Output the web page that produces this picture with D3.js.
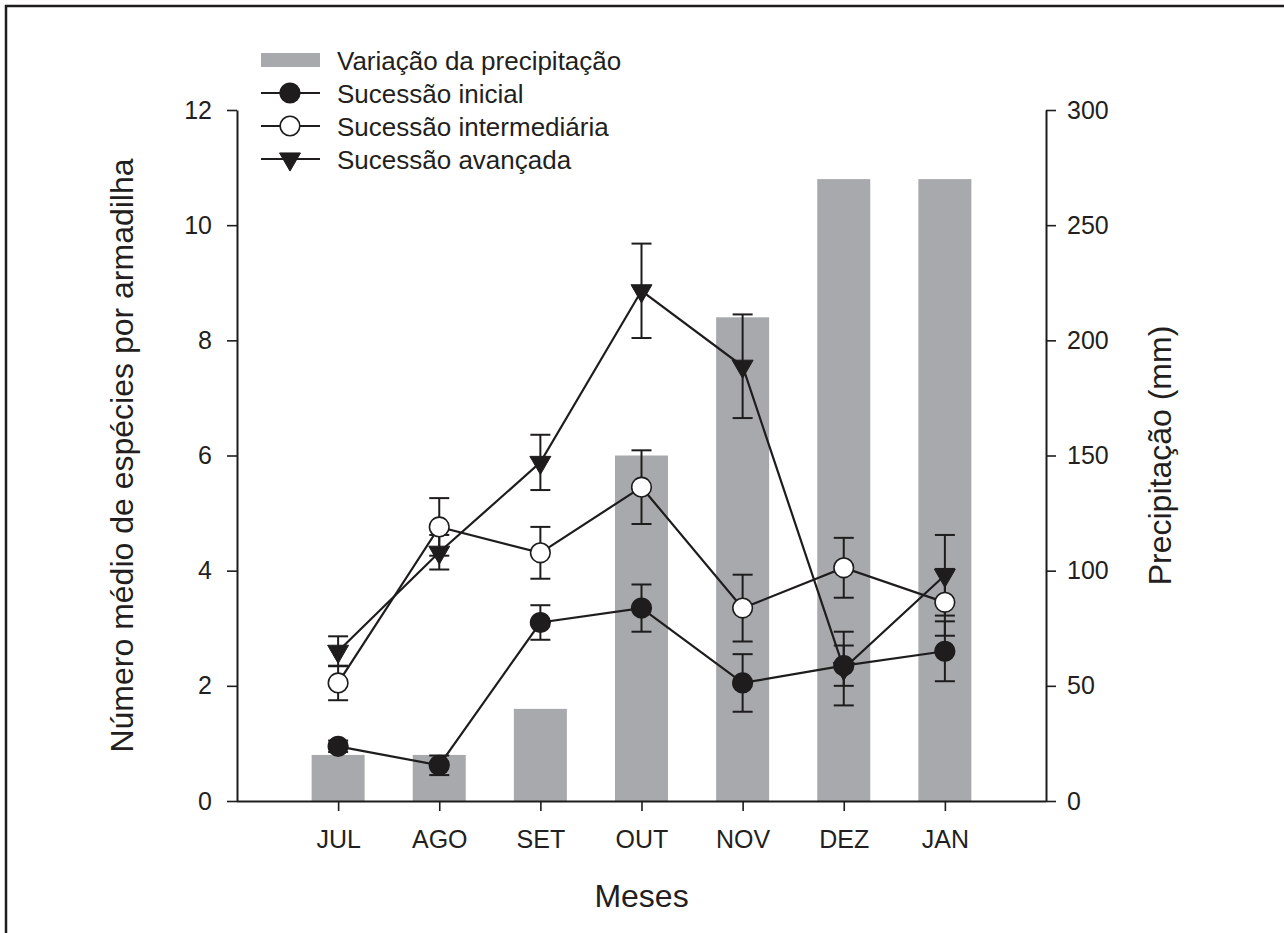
<!DOCTYPE html>
<html>
<head>
<meta charset="utf-8">
<script src="https://cdn.jsdelivr.net/npm/d3@7"></script>
<style>
  html, body { margin: 0; padding: 0; background: #fff; }
  svg { display: block; }
  text { font-family: "Liberation Sans", Arial, sans-serif; fill: #231f20; }
</style>
</head>
<body>
<svg id="chart" width="1284" height="933"></svg>
<script>
// Months on the x axis
const months = ["JUL", "AGO", "SET", "OUT", "NOV", "DEZ", "JAN"];

// Monthly rainfall (mm), right axis
const precipitacao = [20, 20, 40, 150, 210, 270, 270];

// Mean number of species per trap, with error (±)
const inicial      = [0.95, 0.62, 3.10, 3.35, 2.05, 2.35, 2.60];
const inicialErr   = [0.10, 0.17, 0.30, 0.41, 0.50, 0.35, 0.52];
const intermed     = [2.05, 4.76, 4.31, 5.45, 3.35, 4.05, 3.45];
const intermedErr  = [0.30, 0.50, 0.45, 0.64, 0.58, 0.52, 0.58];
const avancada     = [2.60, 4.32, 5.88, 8.86, 7.55, 2.30, 3.92];
const avancadaErr  = [0.26, 0.30, 0.48, 0.82, 0.90, 0.64, 0.70];

// Axis ticks
const leftTicks  = [0, 2, 4, 6, 8, 10, 12];
const rightTicks = [0, 50, 100, 150, 200, 250, 300];

const svg = d3.select("#chart");
const ink = "#1e1c1d";
const barFill = "#a7a9ac";
const tickFont = 25;
const titleFont = 32;

// Frame around the figure
svg.append("line").attr("x1", 5).attr("x2", 1284).attr("y1", 6).attr("y2", 6)
  .attr("stroke", ink).attr("stroke-width", 2.5);
svg.append("line").attr("x1", 6).attr("x2", 6).attr("y1", 5).attr("y2", 933)
  .attr("stroke", ink).attr("stroke-width", 2.5);

const plotL = 237, plotR = 1046, plotT = 110, plotB = 801;

const x = d3.scalePoint().domain(months).range([plotL, plotR]).padding(1);
const yL = d3.scaleLinear().domain([0, 12]).range([plotB, plotT]);
const yR = d3.scaleLinear().domain([0, 300]).range([plotB, plotT]);

// Rainfall bars
const barW = 53;
svg.append("g").selectAll("rect")
  .data(months.map((m, i) => ({ m, v: precipitacao[i] })))
  .join("rect")
  .attr("x", d => x(d.m) - barW / 2)
  .attr("width", barW)
  .attr("y", d => yR(d.v))
  .attr("height", d => yR(0) - yR(d.v))
  .attr("fill", barFill);

// Axes
function styleAxis(g) {
  g.selectAll("path").attr("stroke", ink).attr("stroke-width", 2);
  g.selectAll("line").attr("stroke", ink).attr("stroke-width", 1.6);
  g.selectAll("text").attr("font-size", tickFont).style("fill", "#231f20")
    .attr("font-family", "Liberation Sans, Arial, sans-serif");
}

svg.append("g").attr("transform", `translate(${plotL},0)`)
  .call(d3.axisLeft(yL).tickValues(leftTicks).tickSize(10).tickPadding(15).tickSizeOuter(0))
  .call(styleAxis);

svg.append("g").attr("transform", `translate(${plotR},0)`)
  .call(d3.axisRight(yR).tickValues(rightTicks).tickSize(10).tickPadding(11).tickSizeOuter(0))
  .call(styleAxis);

const xAxis = svg.append("g").attr("transform", `translate(0,${plotB})`)
  .call(d3.axisBottom(x).tickSize(10).tickPadding(19).tickSizeOuter(0))
  .call(styleAxis);
xAxis.select("path").attr("d", `M${plotL},0.5H${plotR}`);

// Axis titles
svg.append("text")
  .attr("transform", `translate(122,${(plotT + plotB) / 2}) rotate(-90)`)
  .attr("text-anchor", "middle").attr("dominant-baseline", "central")
  .attr("font-size", titleFont)
  .text("Número médio de espécies por armadilha");

svg.append("text")
  .attr("transform", `translate(1160,${(plotT + plotB) / 2}) rotate(-90)`)
  .attr("text-anchor", "middle").attr("dominant-baseline", "central")
  .attr("font-size", titleFont)
  .text("Precipitação (mm)");

svg.append("text")
  .attr("x", x("OUT")).attr("y", 896)
  .attr("text-anchor", "middle").attr("dominant-baseline", "central")
  .attr("font-size", titleFont)
  .text("Meses");

// Marker drawing helpers
const tri = d3.symbol().type(d3.symbolTriangle).size(190);
function drawMarker(g, kind, cx, cy) {
  if (kind === "tri") {
    g.append("path").attr("d", tri())
      .attr("transform", `translate(${cx},${cy}) rotate(180)`)
      .attr("fill", ink).attr("stroke", ink).attr("stroke-width", 1);
  } else {
    g.append("circle").attr("cx", cx).attr("cy", cy).attr("r", 9.8)
      .attr("fill", kind === "open" ? "#fff" : ink)
      .attr("stroke", ink).attr("stroke-width", 1.6);
  }
}

const series = [
  { name: "Sucessão avançada", vals: avancada, err: avancadaErr, kind: "tri" },
  { name: "Sucessão intermediária", vals: intermed, err: intermedErr, kind: "open" },
  { name: "Sucessão inicial", vals: inicial, err: inicialErr, kind: "filled" }
];

const line = d3.line().x((d, i) => x(months[i])).y(d => yL(d));
const cap = 10;

series.forEach(s => {
  const g = svg.append("g");
  // error bars
  s.vals.forEach((v, i) => {
    const cx = x(months[i]);
    const y1 = yL(v + s.err[i]), y0 = yL(v - s.err[i]);
    g.append("line").attr("x1", cx).attr("x2", cx).attr("y1", y1).attr("y2", y0)
      .attr("stroke", ink).attr("stroke-width", 2);
    [y1, y0].forEach(yy => g.append("line")
      .attr("x1", cx - cap).attr("x2", cx + cap).attr("y1", yy).attr("y2", yy)
      .attr("stroke", ink).attr("stroke-width", 2));
  });
  // connecting line
  g.append("path").attr("d", line(s.vals)).attr("fill", "none")
    .attr("stroke", ink).attr("stroke-width", 2.2);
  // symbols
  s.vals.forEach((v, i) => drawMarker(g, s.kind, x(months[i]), yL(v)));
});

// Legend
const lg = svg.append("g");
const lx0 = 261, lx1 = 320, lmid = 290, ltx = 337;
const rows = [
  { label: "Variação da precipitação", kind: "bar", y: 60 },
  { label: "Sucessão inicial", kind: "filled", y: 93 },
  { label: "Sucessão intermediária", kind: "open", y: 126 },
  { label: "Sucessão avançada", kind: "tri", y: 159 }
];
rows.forEach(r => {
  if (r.kind === "bar") {
    lg.append("rect").attr("x", lx0).attr("y", r.y - 7).attr("width", lx1 - lx0).attr("height", 14)
      .attr("fill", barFill);
  } else {
    lg.append("line").attr("x1", lx0).attr("x2", lx1).attr("y1", r.y).attr("y2", r.y)
      .attr("stroke", ink).attr("stroke-width", 2.2);
    drawMarker(lg, r.kind, lmid, r.y);
  }
  lg.append("text").attr("x", ltx).attr("y", r.y + 1).attr("dominant-baseline", "central")
    .attr("font-size", 26).text(r.label);
});
</script>
</body>
</html>
